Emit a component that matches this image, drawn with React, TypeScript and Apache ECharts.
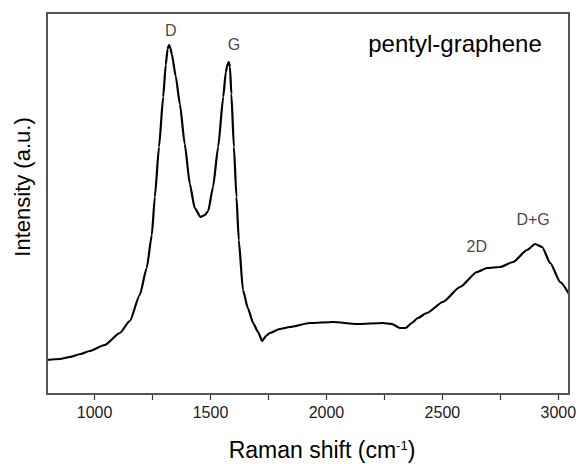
import React, { useEffect, useRef } from "react";
import * as echarts from "echarts";

// Raman shift (cm^-1) and intensity (a.u.)
const ramanShift = [
  795, 850, 893, 940, 979, 1044, 1109, 1152, 1195, 1225, 1247, 1260, 1278, 1296, 1307, 1315,
  1321, 1327, 1333, 1350, 1368, 1389, 1411, 1432, 1457, 1476, 1490, 1511, 1533, 1555, 1566,
  1574, 1579, 1584, 1590, 1601, 1612, 1622, 1640, 1661, 1684, 1705, 1723, 1739, 1756, 1799,
  1842, 1929, 2028, 2131, 2243, 2282, 2317, 2342, 2368, 2394, 2433, 2502, 2576, 2649, 2693,
  2749, 2805, 2865, 2900, 2930, 2965, 3008, 3046,
];
const intensity = [
  34, 35, 37, 40, 43, 49, 61, 73, 99, 126, 159, 197, 247, 297, 329, 345,
  349, 346, 340, 318, 290, 250, 210, 186, 177, 179, 183, 207, 247, 297, 322,
  330, 332, 327, 300, 247, 197, 154, 104, 86, 71, 62, 53, 58, 61, 65,
  67, 71, 72, 70, 71, 70, 66, 66, 71, 76, 81, 92, 107, 122, 126,
  127, 132, 144, 150, 147, 131, 112, 100,
];

const peakNames = ["D", "G", "2D", "D+G"];
const peakX = [1329, 1601, 2648, 2891];
const peakY = [364, 350, 148, 175];

const xLabelValues = [1000, 1500, 2000, 2500, 3000];
const xTickValues = [1000, 1250, 1500, 1750, 2000, 2250, 2500, 2750, 3000];

const X_MIN = 795;
const X_MAX = 3046;
const Y_MIN = 0;
const Y_MAX = 381;

const FONT = '"Liberation Sans", Arial, sans-serif';
const FRAME = "#555555";
const GRID = { left: 47, top: 13, width: 522, height: 381 };

export default function App() {
  const ref = useRef<HTMLDivElement>(null);
  useEffect(() => {
    document.body.style.margin = "0";
    if (!ref.current) return;
    const chart = echarts.init(ref.current, null, { renderer: "svg" });
    chart.setOption({
      animation: false,
      grid: {
        ...GRID,
        show: true,
        borderColor: FRAME,
        borderWidth: 2,
        backgroundColor: "rgba(0,0,0,0)",
      },
      xAxis: {
        type: "value",
        min: X_MIN,
        max: X_MAX,
        axisLine: { show: true, onZero: false, lineStyle: { color: FRAME, width: 2 } },
        splitLine: { show: false },
        axisTick: {
          show: true,
          inside: false,
          length: 6,
          customValues: xTickValues,
          lineStyle: { color: "#333", width: 1.2 },
        },
        axisLabel: {
          customValues: xLabelValues,
          formatter: (v: number) => String(v),
          fontFamily: FONT,
          fontSize: 16,
          color: "#1a1a1a",
          margin: 10,
        },
      },
      yAxis: {
        type: "value",
        min: Y_MIN,
        max: Y_MAX,
        axisLine: { show: false },
        axisTick: { show: false },
        axisLabel: { show: false },
        splitLine: { show: false },
      },
      series: [
        {
          type: "line",
          data: ramanShift.map((x, i) => [x, intensity[i]]),
          showSymbol: false,
          smooth: 0.2,
          smoothMonotone: "x",
          lineStyle: { color: "#000", width: 2.2 },
        },
        {
          type: "scatter",
          data: peakNames.map((n, i) => ({ name: n, value: [peakX[i], peakY[i]] })),
          symbolSize: 1,
          itemStyle: { color: "transparent" },
          label: {
            show: true,
            position: "inside",
            formatter: "{b}",
            fontFamily: FONT,
            fontSize: 16,
            color: "#111",
          },
        },
      ],
      graphic: [
        {
          type: "text",
          x: 455,
          y: 43,
          style: {
            text: "pentyl-graphene",
            font: `24px ${FONT}`,
            fill: "#000",
            align: "center",
            verticalAlign: "middle",
          },
        },
        {
          type: "text",
          x: 22,
          y: 187,
          rotation: Math.PI / 2,
          style: {
            text: "Intensity (a.u.)",
            font: `22px ${FONT}`,
            fill: "#000",
            align: "center",
            verticalAlign: "middle",
          },
        },
        {
          type: "text",
          x: 322,
          y: 450,
          style: {
            text: "{a|Raman shift (cm}{s|-1}{a|)}",
            align: "center",
            verticalAlign: "middle",
            rich: {
              a: { fontFamily: FONT, fontSize: 23, fill: "#000", color: "#000" },
              s: {
                fontFamily: FONT,
                fontSize: 13,
                fill: "#000",
                color: "#000",
                verticalAlign: "top",
              },
            },
          },
        },
      ],
    });
    return () => chart.dispose();
  }, []);
  return (
    <div style={{ position: "relative", width: 580, height: 464 }}>
      <div ref={ref} style={{ width: 580, height: 464 }} />
      <div
        style={{
          position: "absolute",
          left: GRID.left - 1,
          top: GRID.top - 1,
          width: GRID.width + 2,
          height: GRID.height + 2,
          border: `2px solid ${FRAME}`,
          boxSizing: "border-box",
          pointerEvents: "none",
        }}
      />
    </div>
  );
}
